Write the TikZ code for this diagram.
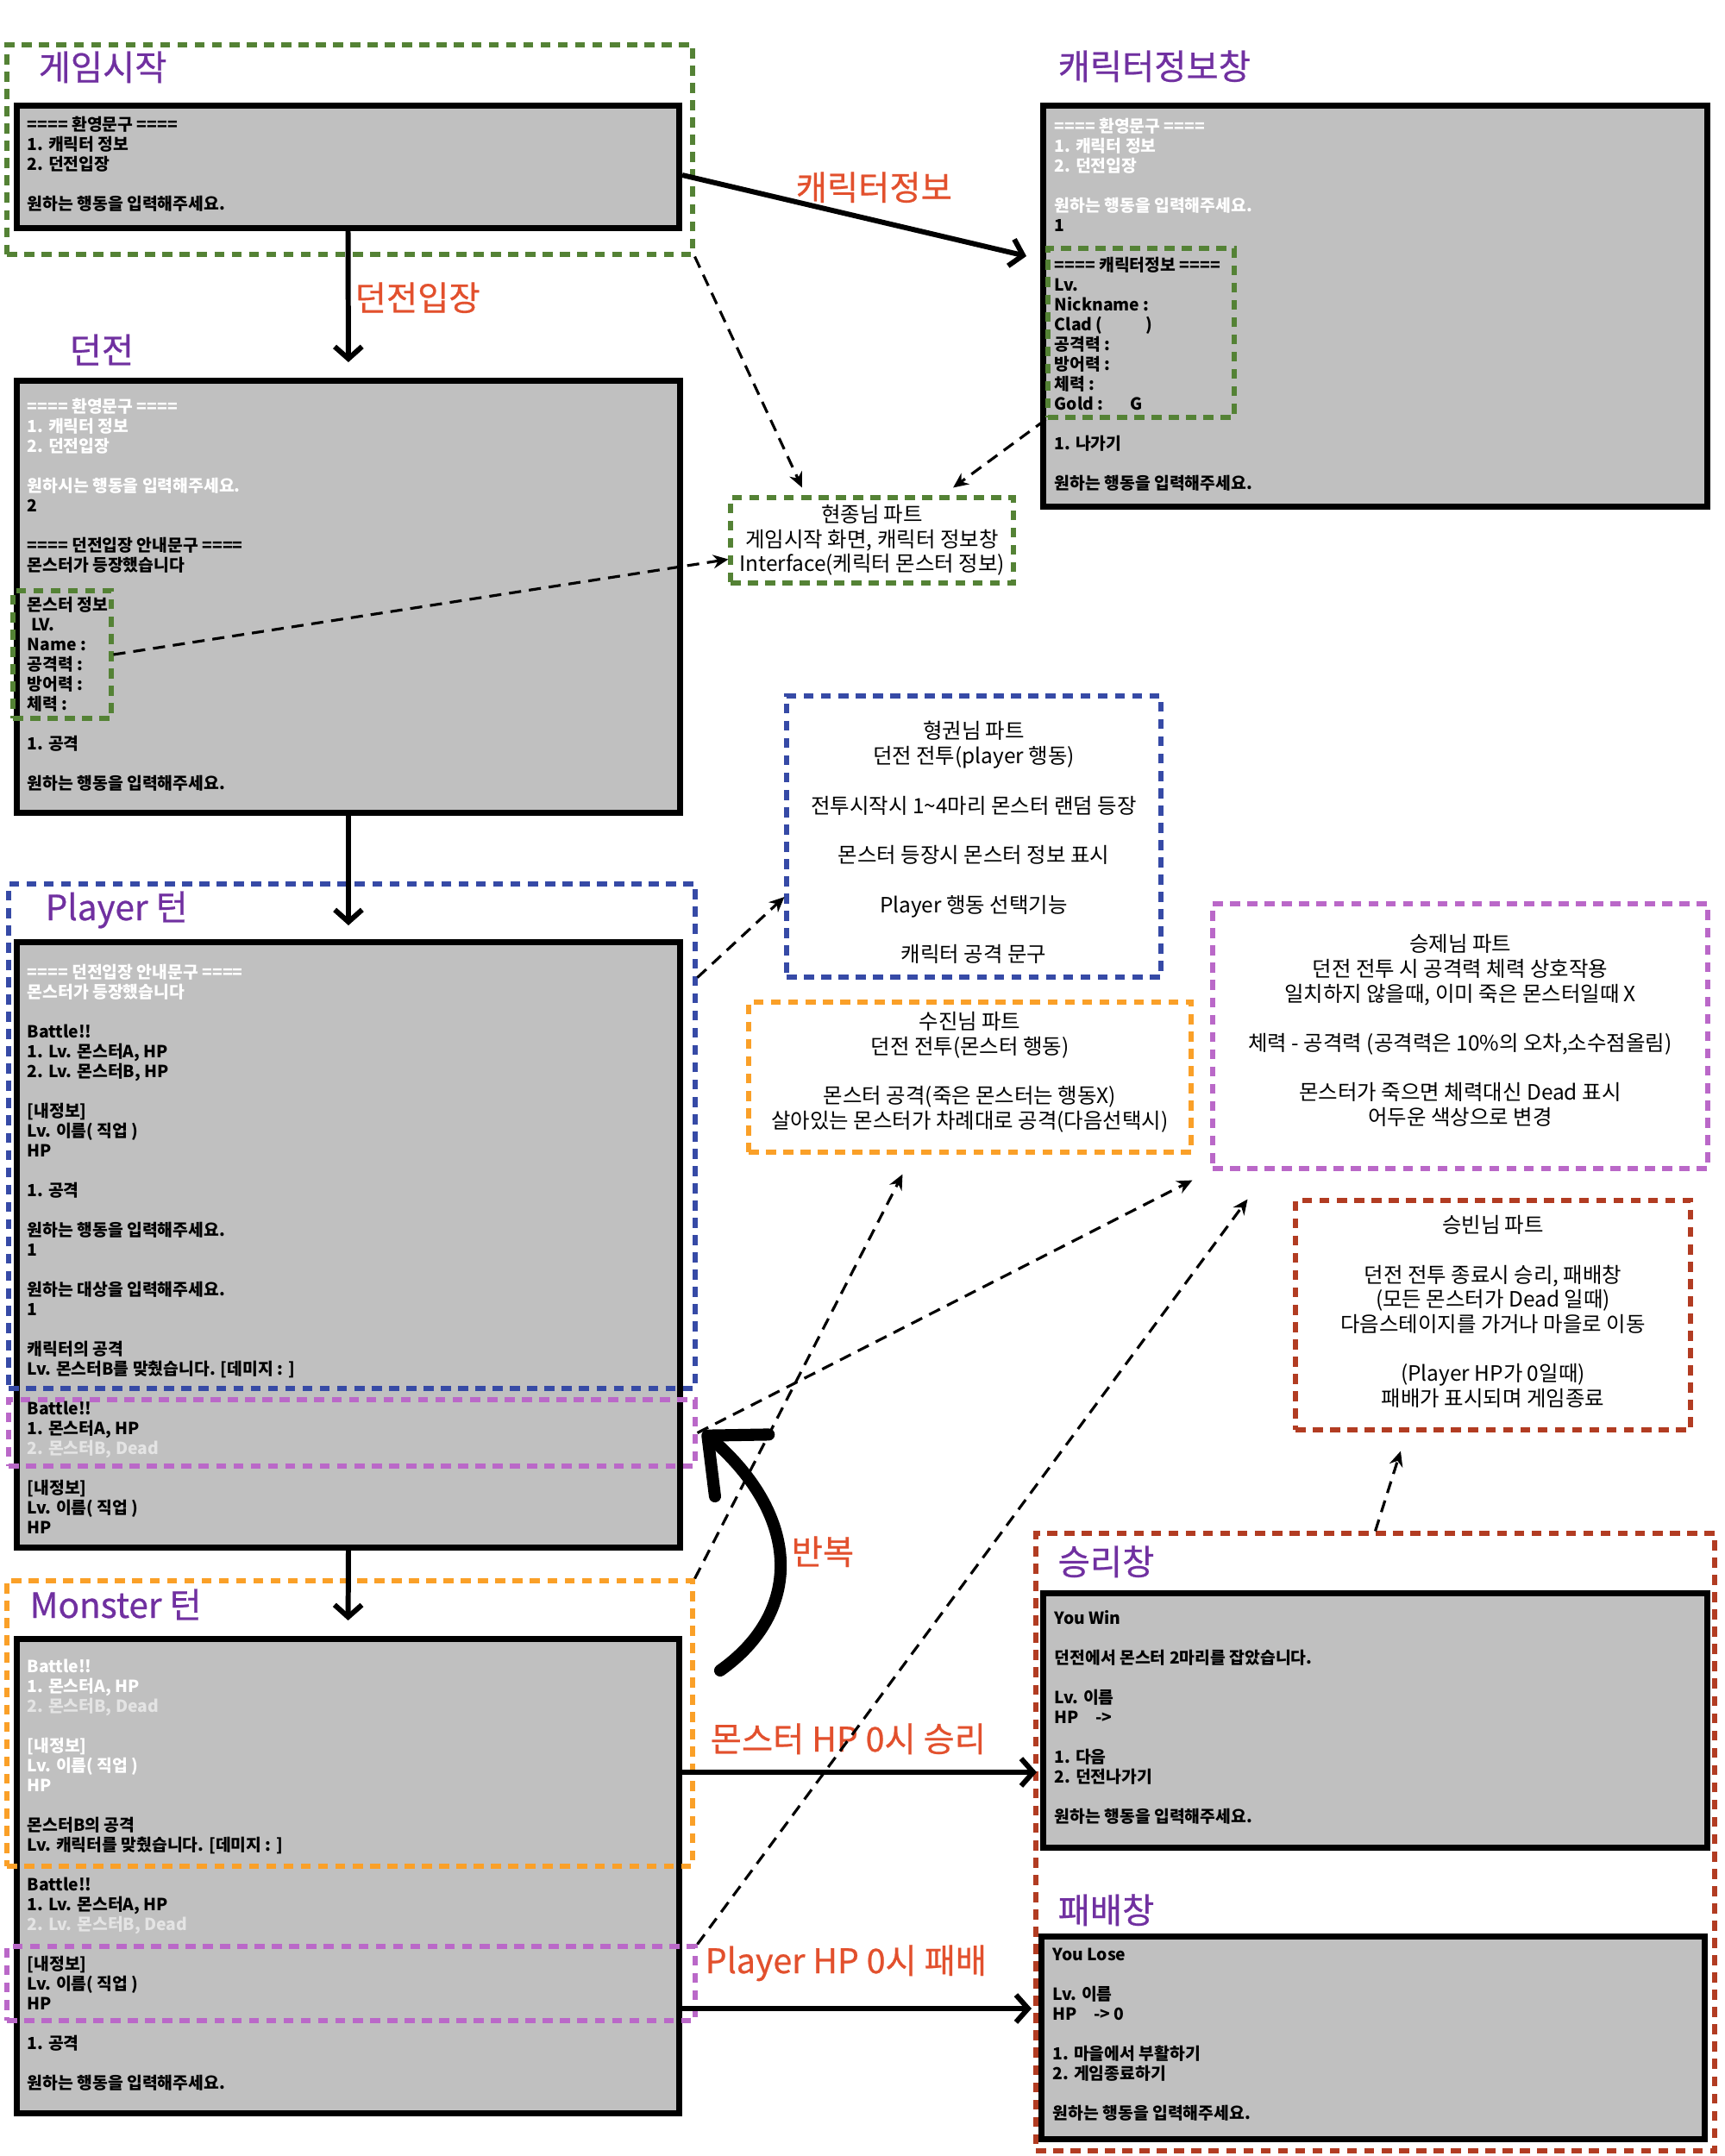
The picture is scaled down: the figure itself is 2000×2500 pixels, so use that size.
\documentclass[tikz,border=0pt]{standalone}
\usepackage{fontspec}
\setmainfont{Noto Sans CJK KR}
\newfontfamily\headfont{Noto Sans CJK KR}[FakeBold=0.6]
\usetikzlibrary{arrows.meta,fit}
\definecolor{frameGreen}{RGB}{84,130,53}
\definecolor{frameBlue}{RGB}{54,74,166}
\definecolor{frameOrange}{RGB}{250,160,40}
\definecolor{framePurple}{RGB}{186,104,200}
\definecolor{frameRed}{RGB}{178,60,34}
\definecolor{titlePurple}{RGB}{112,48,160}
\definecolor{labelRed}{RGB}{226,80,45}
\definecolor{screenGray}{RGB}{192,192,192}
\definecolor{deadGray}{RGB}{228,228,228}
\tikzset{
    >={Straight Barb[length=4pt,width=9pt]},
    screen/.style={draw=black,line width=2pt,fill=screenGray,inner sep=0pt},
    screentext/.style={anchor=north west,align=left,inner sep=0pt,execute at begin node={\strut},font=\fontsize{5.5pt}{6.54pt}\selectfont\bfseries},
    frame/.style={draw=#1,line width=1.45pt,dash pattern=on 3.3pt off 2.4pt,inner sep=0pt},
    notetext/.style={align=center,inner sep=0pt,font=\fontsize{6.95pt}{8.17pt}\selectfont},
    title/.style={anchor=base west,text=titlePurple,inner sep=0pt,font=\headfont\fontsize{11.5pt}{13pt}\selectfont},
    flowlabel/.style={anchor=base west,text=labelRed,inner sep=0pt,font=\headfont\fontsize{11.2pt}{13pt}\selectfont},
    flow/.style={->,line width=1.7pt},
    hint/.style={-{Stealth[length=5pt,width=4.5pt]},line width=0.9pt,dash pattern=on 4pt off 2.6pt}
}
\newcommand{\wl}[1]{\textcolor{white}{#1}}
\newcommand{\dl}[1]{\textcolor{deadGray}{#1}}

\begin{document}
\begin{tikzpicture}[x=0.01cm,y=-0.01cm]
  \useasboundingbox (0,0) rectangle (2000,2500);

  % console screens
  \node[screen,fit={(19.5,122.5) (787.5,264.5)}]    (start)   {};
  \node[screen,fit={(19.5,441.5) (788.5,942.5)}]    (dungeon) {};
  \node[screen,fit={(1209.5,122.5) (1979.5,587.5)}] (info)    {};
  \node[screen,fit={(19.5,1092.5) (788.5,1794.5)}]  (player)  {};
  \node[screen,fit={(19.5,1900.5) (787.5,2450.5)}]  (monster) {};
  \node[screen,fit={(1209,1847.5) (1979.5,2142.5)}] (win)     {};
  \node[screen,fit={(1207.5,2245.5) (1976.5,2480.5)}] (lose)  {};

  % part frames
  \node[frame=frameGreen,fit={(8,52) (803,295)}]      (startframe)   {};
  \node[frame=frameGreen,fit={(15,685) (129,833)}]    (moninfo)      {};
  \node[frame=frameGreen,fit={(1215,288) (1431,484)}] (charinfo)     {};
  \node[frame=frameBlue,fit={(10,1025) (806,1610)}]   (playerframe)  {};
  \node[frame=framePurple,fit={(10,1623) (806,1700)}] (playerhit)    {};
  \node[frame=frameOrange,fit={(8,1833) (803,2164)}]  (monsterframe) {};
  \node[frame=framePurple,fit={(8,2257) (806,2343)}]  (monsterhit)   {};
  \node[frame=frameRed,fit={(1201,1778) (1988,2494)}] (resultframe)  {};

  % notes
  \node[frame=frameGreen,fit={(847,577) (1175,676)}]     (hjnote)  {};
  \node[frame=frameBlue,fit={(912,807) (1346,1133)}]     (hknote)  {};
  \node[frame=frameOrange,fit={(868,1162) (1381,1336)}]  (sjnote)  {};
  \node[frame=framePurple,fit={(1406,1048) (1980,1355)}] (sjenote) {};
  \node[frame=frameRed,fit={(1502,1392) (1960,1658)}]    (sbnote)  {};

  \node[notetext] (hjtext) at (hjnote) {현종님 파트\\게임시작 화면, 캐릭터 정보창\\Interface(케릭터 몬스터 정보)};
  \node[notetext] (hktext) at ([yshift=-0.07cm]hknote.center) {형권님 파트\\던전 전투(player 행동)\\\mbox{}\\전투시작시 1\textasciitilde4마리 몬스터 랜덤 등장\\\mbox{}\\몬스터 등장시 몬스터 정보 표시\\\mbox{}\\Player 행동 선택기능\\\mbox{}\\캐릭터 공격 문구};
  \node[notetext] (sjtext) at ([yshift=0.055cm]sjnote.center) {수진님 파트\\던전 전투(몬스터 행동)\\\mbox{}\\몬스터 공격(죽은 몬스터는 행동X)\\살아있는 몬스터가 차례대로 공격(다음선택시)};
  \node[notetext] (sjetext) at ([yshift=0.065cm]sjenote.center) {승제님 파트\\던전 전투 시 공격력 체력 상호작용\\일치하지 않을때, 이미 죽은 몬스터일때 X\\\mbox{}\\체력 - 공격력 (공격력은 10\%의 오차,소수점올림)\\\mbox{}\\몬스터가 죽으면 체력대신 Dead 표시\\어두운 색상으로 변경};
  \node[notetext] (sbtext) at ([yshift=0.04cm]sbnote.center) {승빈님 파트\\\mbox{}\\던전 전투 종료시 승리, 패배창\\(모든 몬스터가 Dead 일때)\\다음스테이지를 가거나 마을로 이동\\\mbox{}\\(Player HP가 0일때)\\패배가 표시되며 게임종료};

  % titles
  \node[title] (starttitle)   at (44,93)     {게임시작};
  \node[title] (dungeontitle) at (80,421)    {던전};
  \node[title] (infotitle)    at (1226,92)   {캐릭터정보창};
  \node[title] (playertitle)  at (52,1067)   {Player 턴};
  \node[title] (monstertitle) at (34,1876)   {Monster 턴};
  \node[title] (wintitle)     at (1226,1826) {승리창};
  \node[title] (losetitle)    at (1226,2230) {패배창};

  % screen texts
  \node[screentext] (starttext) at (31,134) {==== 환영문구 ====\\1. 캐릭터 정보\\2. 던전입장\\\mbox{}\\원하는 행동을 입력해주세요.};
  \node[screentext] (dungeontext) at (31,461) {\wl{==== 환영문구 ====}\\\wl{1. 캐릭터 정보}\\\wl{2. 던전입장}\\\mbox{}\\\wl{원하시는 행동을 입력해주세요.}\\2\\\mbox{}\\==== 던전입장 안내문구 ====\\몬스터가 등장했습니다\\\mbox{}\\몬스터 정보\\\ LV.\\Name :\\공격력 :\\방어력 :\\체력 :\\\mbox{}\\1. 공격\\\mbox{}\\원하는 행동을 입력해주세요.};
  \node[screentext] (infotext) at (1222,136) {\wl{==== 환영문구 ====}\\\wl{1. 캐릭터 정보}\\\wl{2. 던전입장}\\\mbox{}\\\wl{원하는 행동을 입력해주세요.}\\1\\\mbox{}\\==== 캐릭터정보 ====\\Lv.\\Nickname :\\Clad (\hspace{2.6em})\\공격력 :\\방어력 :\\체력 :\\Gold :\hspace{1.6em}G\\\mbox{}\\1. 나가기\\\mbox{}\\원하는 행동을 입력해주세요.};
  \node[screentext] (playertext) at (31,1117) {\wl{==== 던전입장 안내문구 ====}\\\wl{몬스터가 등장했습니다}\\\mbox{}\\Battle!!\\1. Lv. 몬스터A, HP\\2. Lv. 몬스터B, HP\\\mbox{}\\{[}내정보]\\Lv. 이름( 직업 )\\HP\\\mbox{}\\1. 공격\\\mbox{}\\원하는 행동을 입력해주세요.\\1\\\mbox{}\\원하는 대상을 입력해주세요.\\1\\\mbox{}\\캐릭터의 공격\\Lv. 몬스터B를 맞췄습니다. [데미지 : ]\\\mbox{}\\Battle!!\\1. 몬스터A, HP\\\dl{2. 몬스터B, Dead}\\\mbox{}\\{[}내정보]\\Lv. 이름( 직업 )\\HP};
  \node[screentext] (monstertext) at (31,1923) {\wl{Battle!!}\\\wl{1. 몬스터A, HP}\\\dl{2. 몬스터B, Dead}\\\mbox{}\\\wl{[내정보]}\\\wl{Lv. 이름( 직업 )}\\\wl{HP}\\\mbox{}\\몬스터B의 공격\\Lv. 캐릭터를 맞췄습니다. [데미지 : ]\\\mbox{}\\Battle!!\\1. Lv. 몬스터A, HP\\\dl{2. Lv. 몬스터B, Dead}\\\mbox{}\\{[}내정보]\\Lv. 이름( 직업 )\\HP\\\mbox{}\\1. 공격\\\mbox{}\\원하는 행동을 입력해주세요.};
  \node[screentext] (wintext) at (1222,1867) {You Win\\\mbox{}\\던전에서 몬스터 2마리를 잡았습니다.\\\mbox{}\\Lv. 이름\\HP\hspace{1em}->\\\mbox{}\\1. 다음\\2. 던전나가기\\\mbox{}\\원하는 행동을 입력해주세요.};
  \node[screentext] (losetext) at (1220,2258) {You Lose\\\mbox{}\\Lv. 이름\\HP\hspace{1em}-> 0\\\mbox{}\\1. 마을에서 부활하기\\2. 게임종료하기\\\mbox{}\\원하는 행동을 입력해주세요.};

  % flow
  \coordinate (infoin)   at (1190,297);
  \coordinate (winin)    at (1202,2055);
  \coordinate (losein)   at (1196,2329);
  \coordinate (loopfrom) at (835,1937);
  \coordinate (loopto)   at (815,1660);
  \draw[flow,shorten >=0.18cm] (start.south) -- (dungeon.north);
  \draw[flow] ([yshift=-0.095cm]start.east) -- (infoin);
  \draw[flow,shorten >=0.16cm] (dungeon.south) -- (player.north);
  \draw[flow,shorten >=0.18cm] (player.south) -- (monster.north);
  \draw[flow] (monster.east |- winin) -- (winin);
  \draw[flow] (monster.east |- losein) -- (losein);
  \draw[line width=4pt,line cap=round,-{Straight Barb[round,length=15pt,width=27pt]}] (loopfrom) .. controls (930,1870) and (930,1760) .. (loopto);

  \node[flowlabel] (enterlabel) at (411,360)  {던전입장};
  \node[flowlabel] (infolabel)  at (922,232)  {캐릭터정보};
  \node[flowlabel] (looplabel)  at (917,1814) {반복};
  \node[flowlabel] (winlabel)   at (823,2031) {몬스터 HP 0시 승리};
  \node[flowlabel] (loselabel)  at (817,2288) {Player HP 0시 패배};

  % who does what
  \draw[hint] (startframe.south east) -- ([xshift=-0.81cm,yshift=0.09cm]hjnote.north);
  \draw[hint] (charinfo.south west) -- ([xshift=0.94cm,yshift=0.09cm]hjnote.north);
  \draw[hint] (moninfo.east) -- ([yshift=-0.22cm]hjnote.west);
  \draw[hint] ([yshift=-1.11cm]playerframe.north east) -- ([yshift=-0.7cm]hknote.west);
  \draw[hint] (monsterframe.north east) -- ([xshift=-0.78cm,yshift=-0.23cm]sjnote.south);
  \draw[hint] (playerhit.east) -- ([xshift=-0.21cm,yshift=-0.11cm]sjenote.south west);
  \draw[hint] (monsterhit.north east) -- ([xshift=0.43cm,yshift=-0.33cm]sjenote.south west);
  \draw[hint] (resultframe.north) -- ([xshift=-1.07cm,yshift=-0.22cm]sbnote.south);
\end{tikzpicture}
\end{document}
